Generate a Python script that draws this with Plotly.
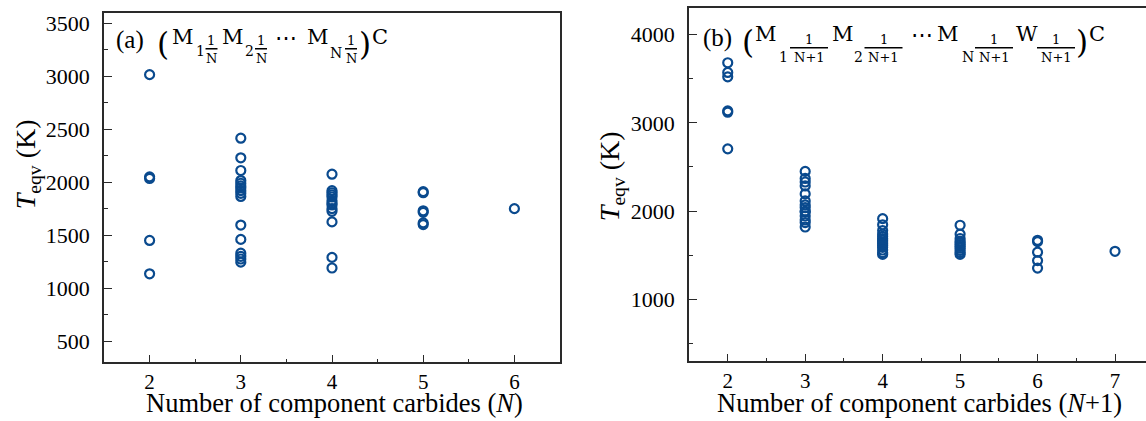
import plotly.graph_objects as go

# ---------------- data ----------------
left_counts = [2, 3, 4, 5, 6]
left_values = [
    [3015, 2050, 2035, 1450, 1135],
    [2415, 2230, 2110, 2015, 1990, 1965, 1945, 1920, 1895, 1865, 1595, 1460, 1330, 1300, 1275, 1245],
    [2075, 1920, 1900, 1880, 1860, 1825, 1800, 1785, 1750, 1725, 1625, 1290, 1190],
    [1910, 1900, 1730, 1715, 1615, 1600],
    [1750],
]
right_counts = [2, 3, 4, 5, 6, 7]
right_values = [
    [3680, 3570, 3520, 3135, 3120, 2705],
    [2450, 2370, 2330, 2285, 2195, 2115, 2070, 2040, 2000, 1990, 1945, 1900, 1870, 1820],
    [1915, 1845, 1780, 1740, 1715, 1690, 1670, 1650, 1630, 1610, 1590, 1560, 1530, 1510],
    [1840, 1740, 1690, 1660, 1640, 1620, 1600, 1580, 1555, 1530, 1510],
    [1670, 1655, 1535, 1440, 1355],
    [1545],
]
left_yticks = [500, 1000, 1500, 2000, 2500, 3000, 3500]
right_yticks = [1000, 2000, 3000, 4000]
left_xticks = [2, 3, 4, 5, 6]
right_xticks = [2, 3, 4, 5, 6, 7]

W, H = 1146, 421
COLOR = "#0a4a8e"
AXC = "#2a2a2a"
SERIF = "Liberation Serif"
MATH = "DejaVu Serif"


def flat(counts, values):
    xs, ys = [], []
    for c, vals in zip(counts, values):
        for v in vals:
            xs.append(c)
            ys.append(v)
    return xs, ys


lx, ly = flat(left_counts, left_values)
rx, ry = flat(right_counts, right_values)

marker = dict(symbol="circle-open", size=9, color=COLOR, line=dict(width=2.2, color=COLOR))

fig = go.Figure()
fig.add_trace(go.Scatter(x=lx, y=ly, mode="markers", marker=marker, xaxis="x", yaxis="y", showlegend=False))
fig.add_trace(go.Scatter(x=rx, y=ry, mode="markers", marker=marker, xaxis="x2", yaxis="y2", showlegend=False))


def px2x(p):
    return p / W


def px2y(p):
    return 1 - p / H


common = dict(
    showline=True, linecolor=AXC, linewidth=1.5, showgrid=False, zeroline=False,
    ticks="inside", ticklen=8, tickwidth=1.2, tickcolor=AXC,
)
yfont = dict(family=SERIF, size=22, color="black")
xfont = dict(family=SERIF, size=21, color="black")

fig.update_layout(
    width=W, height=H,
    margin=dict(l=0, r=0, t=0, b=0),
    paper_bgcolor="white", plot_bgcolor="white",
    xaxis=dict(domain=[px2x(104), px2x(560)], range=[1.5, 6.5], tickvals=left_xticks,
               mirror=True, anchor="y", tickfont=xfont,
               minor=dict(ticks="inside", ticklen=4, dtick=0.5, tick0=1.5, tickcolor=AXC),
               **common),
    yaxis=dict(domain=[px2y(362), px2y(10.7)], range=[300, 3600], tickvals=left_yticks,
               mirror=True, anchor="x", tickfont=yfont,
               minor=dict(ticks="inside", ticklen=4, dtick=250, tick0=250, tickcolor=AXC),
               ticklabelstandoff=8, **common),
    xaxis2=dict(domain=[px2x(689), 1.0], range=[1.5, 7.4], tickvals=right_xticks,
                mirror=True, anchor="y2", tickfont=xfont,
                minor=dict(ticks="inside", ticklen=4, dtick=0.5, tick0=1.5, tickcolor=AXC),
                **common),
    yaxis2=dict(domain=[px2y(361), px2y(6)], range=[300, 4300], tickvals=right_yticks,
                mirror=False, anchor="x2", tickfont=yfont,
                minor=dict(ticks="inside", ticklen=4, dtick=500, tick0=500, tickcolor=AXC),
                ticklabelstandoff=8, **common),
)

annotations = []
shapes = []


def txt(s, x, y, size, family=MATH, angle=0):
    annotations.append(dict(
        text=s, x=px2x(x), y=px2y(y), xref="paper", yref="paper",
        xanchor="center", yanchor="middle", showarrow=False, textangle=angle,
        font=dict(family=family, size=size, color="black"),
    ))


def bar(x0, x1, y):
    shapes.append(dict(type="line", xref="paper", yref="paper",
                       x0=px2x(x0), x1=px2x(x1), y0=px2y(y), y1=px2y(y),
                       line=dict(color="black", width=1.5)))


def frac(xc, yb, num, den, half):
    txt(num, xc, yb - 8, 13)
    bar(xc - half, xc + half, yb)
    txt(den, xc, yb + 10, 13)


# axis titles
txt("<i>T</i><sub>eqv</sub> (K)", 27, 163, 28, family=SERIF, angle=-90)
txt("<i>T</i><sub>eqv</sub> (K)", 611, 175, 28, family=SERIF, angle=-90)
txt("Number of component carbides (<i>N</i>)", 334, 403, 26.5, family=SERIF)
txt("Number of component carbides (<i>N</i>+1)", 919, 403, 26.5, family=SERIF)

# panel (a) title
txt("(a)", 130, 38, 25, family=SERIF)
txt("(", 163, 42, 31)
txt("M", 182.5, 35, 21)
txt("1", 200, 49, 14)
frac(211.5, 47, "1", "N", 6)
txt("M", 232.5, 35, 21)
txt("2", 249, 49, 14)
frac(261, 47, "1", "N", 6)
txt("⋯", 286, 36, 22)
txt("M", 317.5, 35, 21)
txt("N", 336, 51, 14)
frac(351, 47, "1", "N", 6)
txt(")", 365, 42, 31)
txt("C", 380, 35, 21)

# panel (b) title
txt("(b)", 717, 36, 25, family=SERIF)
txt("(", 747.5, 40, 31)
txt("M", 766, 32, 21)
txt("1", 783, 55, 14)
frac(809, 46, "1", "N+1", 19)
txt("M", 842.5, 32, 21)
txt("2", 859, 55, 14)
frac(883.5, 46, "1", "N+1", 19)
txt("⋯", 921.5, 33, 22)
txt("M", 947.5, 32, 21)
txt("N", 967.5, 55, 14)
frac(994, 46, "1", "N+1", 19)
txt("W", 1027, 32, 21)
frac(1056, 46, "1", "N+1", 19)
txt(")", 1082, 40, 31)
txt("C", 1096.5, 32, 21)

fig.update_layout(annotations=annotations, shapes=shapes)
fig.write_html("out.html", config={"displayModeBar": False},
               post_script="document.body.style.margin='0px';")
